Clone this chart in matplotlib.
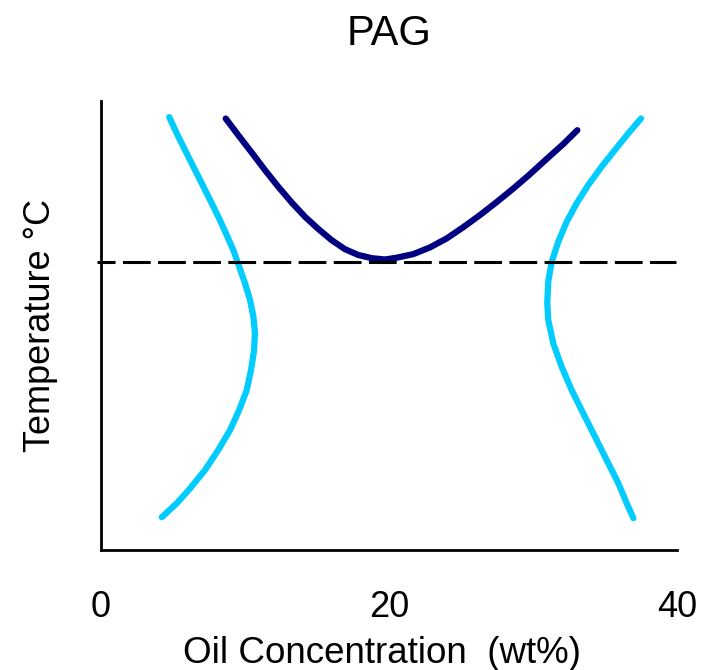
import matplotlib
matplotlib.use('Agg')
import matplotlib.pyplot as plt

plt.rcParams['font.family'] = ['Liberation Sans', 'DejaVu Sans']
plt.rcParams['lines.scale_dashes'] = False

# PAG oil concentration (wt%) vs temperature (arbitrary scale 0-100)
pag_x = [8.66, 9.53, 10.47, 11.39, 12.31, 13.24, 14.17, 15.09, 16.02, 16.94, 17.87, 18.80, 19.72,
         20.53, 21.69, 22.85, 24.01, 25.16, 26.32, 27.48, 28.63, 29.79, 30.95, 32.10, 33.08]
pag_t = [96.1, 92.4, 88.5, 84.6, 80.9, 77.4, 74.2, 71.5, 69.0, 67.0, 65.7, 65.0, 64.7,
         65.1, 65.9, 67.4, 69.4, 71.9, 74.6, 77.5, 80.5, 83.7, 87.1, 90.4, 93.5]

left_x = [4.74, 5.26, 5.83, 6.41, 6.99, 7.57, 8.15, 8.68, 9.19, 9.60, 10.00, 10.35, 10.58, 10.69,
          10.63, 10.42, 10.12, 9.60, 8.96, 8.15, 7.22, 6.18, 5.26, 4.22]
left_t = [96.4, 92.8, 89.1, 85.4, 81.7, 78.0, 74.2, 70.5, 66.8, 63.1, 59.4, 55.7, 52.0, 48.3,
          44.5, 40.1, 35.6, 31.2, 26.7, 22.3, 17.8, 13.7, 10.4, 7.3]

right_x = [37.50, 36.62, 35.69, 34.77, 33.84, 33.03, 32.34, 31.76, 31.30, 31.06, 30.99, 31.06,
           31.41, 31.99, 32.69, 33.49, 34.31, 35.12, 35.92, 36.51, 36.97]
right_t = [96.1, 92.8, 89.1, 85.4, 81.3, 77.2, 73.1, 68.7, 64.2, 59.8, 55.0, 51.2,
           46.0, 40.8, 35.6, 30.4, 25.2, 20.0, 14.9, 10.4, 7.1]

ref_t = 64.2
x_ticks = [0, 20, 40]

fig = plt.figure(figsize=(7.05, 6.70), dpi=100)
ax = fig.add_axes([101 / 705, 1 - 550 / 670, 576 / 705, 449 / 670])

kw = dict(lw=4.5, solid_capstyle='round', solid_joinstyle='round')
ax.plot(left_x, left_t, color='#00CCFF', **kw)
ax.plot(right_x, right_t, color='#00CCFF', **kw)
ax.plot(pag_x, pag_t, color='#000080', **kw)
ax.plot([-0.3, 39.9], [ref_t, ref_t], color='black', lw=2.2,
        linestyle=(7, (20, 5.3)), clip_on=False)

ax.set_xlim(0, 40)
ax.set_ylim(0, 100)
ax.set_xticks(x_ticks)
ax.set_yticks([])
ax.tick_params(axis='x', length=0, pad=29, labelsize=26)

for s in ['top', 'right']:
    ax.spines[s].set_visible(False)
for s in ['left', 'bottom']:
    ax.spines[s].set_linewidth(2)

ax.set_xlabel('Oil Concentration  (wt%)', fontsize=26.5, labelpad=8)
ax.xaxis.label.set_x(0.488)
ax.set_ylabel('Temperature \u00b0C', fontsize=26, labelpad=31)
ax.set_title('PAG', fontsize=30, pad=40)

fig.savefig('out.png', dpi=100)
